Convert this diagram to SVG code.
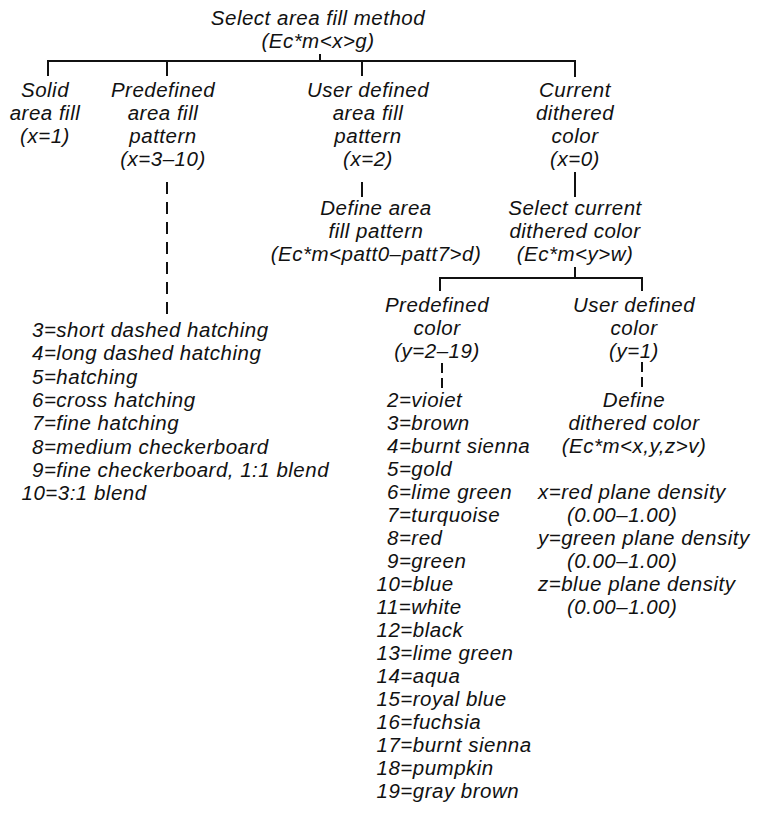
<svg xmlns="http://www.w3.org/2000/svg" width="767" height="818" viewBox="0 0 767 818">
<style>
text{font-family:"Liberation Sans",Arial,sans-serif;font-style:italic;font-size:20.5px;letter-spacing:0.5px;fill:#111}
.c{text-anchor:middle}
.ln{fill:none;stroke:#111;stroke-width:2}
.dl{fill:none;stroke:#111;stroke-width:2;stroke-dasharray:12 8}
.ds{fill:none;stroke:#111;stroke-width:2;stroke-dasharray:10 5}
</style>
<rect width="767" height="818" fill="#fff"/>
<g id="connectors">
<path class="ln" d="M48,76 V61 H575 V77 M167,61 V76 M362,61 V76 M320,54 V61"/>
<path class="ln" d="M362,182 V197"/>
<path class="dl" d="M167,182 V316"/>
<path class="ln" d="M575,172 V197"/>
<path class="ln" d="M575,267 V278 M440,291 V278 H642 V291"/>
<path class="ds" d="M442,363 V388"/>
<path class="ds" d="M642,362 V387"/>
</g>
<g id="n_root">
<text class="c" x="318" y="24.5">Select area fill method</text>
<text class="c" x="318" y="47.5">(Ec*m&lt;x&gt;g)</text>
</g>
<g id="n_solid">
<text class="c" x="45" y="97">Solid</text>
<text class="c" x="45" y="120">area fill</text>
<text class="c" x="45" y="143">(x=1)</text>
</g>
<g id="n_predef_pattern">
<text class="c" x="163" y="97">Predefined</text>
<text class="c" x="163" y="120">area fill</text>
<text class="c" x="163" y="143">pattern</text>
<text class="c" x="163" y="166">(x=3–10)</text>
</g>
<g id="n_user_pattern">
<text class="c" x="368" y="97">User defined</text>
<text class="c" x="368" y="120">area fill</text>
<text class="c" x="368" y="143">pattern</text>
<text class="c" x="368" y="166">(x=2)</text>
</g>
<g id="n_current">
<text class="c" x="575" y="97">Current</text>
<text class="c" x="575" y="120">dithered</text>
<text class="c" x="575" y="143">color</text>
<text class="c" x="575" y="166">(x=0)</text>
</g>
<g id="n_define_pattern">
<text class="c" x="376" y="215">Define area</text>
<text class="c" x="376" y="238">fill pattern</text>
<text class="c" x="376" y="261">(Ec*m&lt;patt0–patt7&gt;d)</text>
</g>
<g id="n_select_color">
<text class="c" x="575" y="215">Select current</text>
<text class="c" x="575" y="238">dithered color</text>
<text class="c" x="575" y="261">(Ec*m&lt;y&gt;w)</text>
</g>
<g id="n_pattern_list">
<text x="32" y="337">3=short dashed hatching</text>
<text x="32" y="360">4=long dashed hatching</text>
<text x="32" y="383.5">5=hatching</text>
<text x="32" y="407">6=cross hatching</text>
<text x="32" y="430">7=fine hatching</text>
<text x="32" y="453.5">8=medium checkerboard</text>
<text x="32" y="477">9=fine checkerboard, 1:1 blend</text>
<text x="21.5" y="500">10=3:1 blend</text>
</g>
<g id="n_predef_color">
<text class="c" x="437" y="312">Predefined</text>
<text class="c" x="437" y="335">color</text>
<text class="c" x="437" y="358">(y=2–19)</text>
</g>
<g id="n_user_color">
<text class="c" x="634" y="312">User defined</text>
<text class="c" x="634" y="335">color</text>
<text class="c" x="634" y="358">(y=1)</text>
</g>
<g id="n_define_color">
<text class="c" x="634" y="407">Define</text>
<text class="c" x="634" y="430">dithered color</text>
<text class="c" x="634" y="453">(Ec*m&lt;x,y,z&gt;v)</text>
</g>
<g id="n_color_list">
<text x="387" y="407">2=vioiet</text>
<text x="387" y="430">3=brown</text>
<text x="387" y="453">4=burnt sienna</text>
<text x="387" y="476">5=gold</text>
<text x="387" y="499">6=lime green</text>
<text x="387" y="522">7=turquoise</text>
<text x="387" y="545">8=red</text>
<text x="387" y="568">9=green</text>
<text x="376.5" y="591">10=blue</text>
<text x="376.5" y="614">11=white</text>
<text x="376.5" y="637">12=black</text>
<text x="376.5" y="660">13=lime green</text>
<text x="376.5" y="683">14=aqua</text>
<text x="376.5" y="706">15=royal blue</text>
<text x="376.5" y="729">16=fuchsia</text>
<text x="376.5" y="752">17=burnt sienna</text>
<text x="376.5" y="775">18=pumpkin</text>
<text x="376.5" y="798">19=gray brown</text>
</g>
<g id="n_density">
<text x="538" y="499">x=red plane density</text>
<text x="567" y="522">(0.00–1.00)</text>
<text x="538" y="545">y=green plane density</text>
<text x="567" y="568">(0.00–1.00)</text>
<text x="538" y="591">z=blue plane density</text>
<text x="567" y="614">(0.00–1.00)</text>
</g>
</svg>
